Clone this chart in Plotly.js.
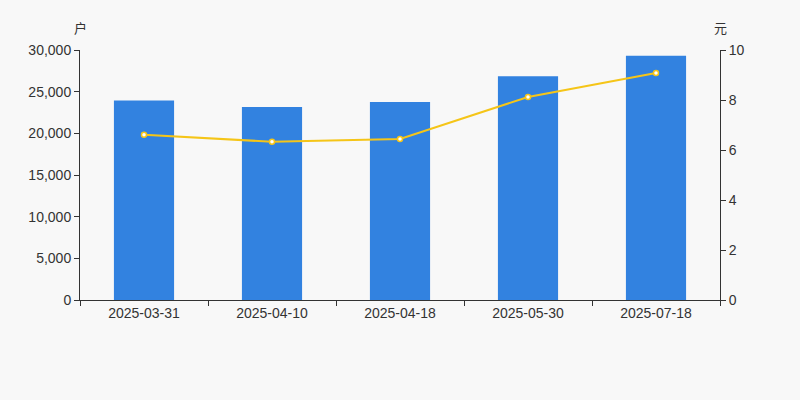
<!DOCTYPE html>
<html><head><meta charset="utf-8">
<script src="https://cdn.plot.ly/plotly-3.0.1.min.js"></script>
<style>html,body{margin:0;padding:0;background:#f8f8f8;}#chart{width:800px;height:400px;}</style>
</head><body><div id="chart"></div>
<script>
const categories = ["2025-03-31","2025-04-10","2025-04-18","2025-05-30","2025-07-18"];
const households = [23950, 23160, 23760, 26840, 29320];
const avgValue = [6.61, 6.33, 6.44, 8.12, 9.08];
const leftTicks = [0, 5000, 10000, 15000, 20000, 25000, 30000];
const leftTickText = ["0","5,000","10,000","15,000","20,000","25,000","30,000"];
const rightTicks = [0, 2, 4, 6, 8, 10];

const font = {family: "Liberation Sans, Arial, sans-serif", size: 14, color: "#333"};
const data = [
  {type: "bar", x: categories, y: households, marker: {color: "#3282e0"}, width: 0.47, hoverinfo: "none"},
  {type: "scatter", mode: "lines+markers", x: categories, y: avgValue, yaxis: "y2",
   line: {color: "#f5c518", width: 2}, marker: {color: "#ffffff", size: 5, line: {color: "#f5c518", width: 1.5}}, hoverinfo: "none"}
];
const layout = {
  width: 800, height: 400,
  paper_bgcolor: "#f8f8f8", plot_bgcolor: "#f8f8f8",
  margin: {l: 80, r: 80, t: 50, b: 100},
  showlegend: false,
  font: font,
  xaxis: {type: "category", showgrid: false, showline: true, linecolor: "#333", linewidth: 1,
    ticks: "outside", tickson: "boundaries", ticklen: 5, tickcolor: "#333", tickfont: font, zeroline: false},
  yaxis: {range: [0, 30000], tickvals: leftTicks, ticktext: leftTickText, showgrid: false, showline: true,
    linecolor: "#333", ticks: "outside", ticklen: 5, tickcolor: "#333", tickfont: font, zeroline: false},
  yaxis2: {range: [0, 10], tickvals: rightTicks, overlaying: "y", side: "right", showgrid: false, showline: true,
    linecolor: "#333", ticks: "outside", ticklen: 5, tickcolor: "#333", tickfont: font, zeroline: false},
  annotations: [
    {text: "户", xref: "paper", yref: "paper", x: 0, y: 1, xanchor: "center", yanchor: "middle", yshift: 23, showarrow: false, font: {family: "Noto Sans CJK SC", size: 13, color: "#333"}},
    {text: "元", xref: "paper", yref: "paper", x: 1, y: 1, xanchor: "center", yanchor: "middle", yshift: 23, showarrow: false, font: {family: "Noto Sans CJK SC", size: 13, color: "#333"}}
  ]
};
Plotly.newPlot("chart", data, layout, {displayModeBar: false, staticPlot: true});
</script></body></html>
